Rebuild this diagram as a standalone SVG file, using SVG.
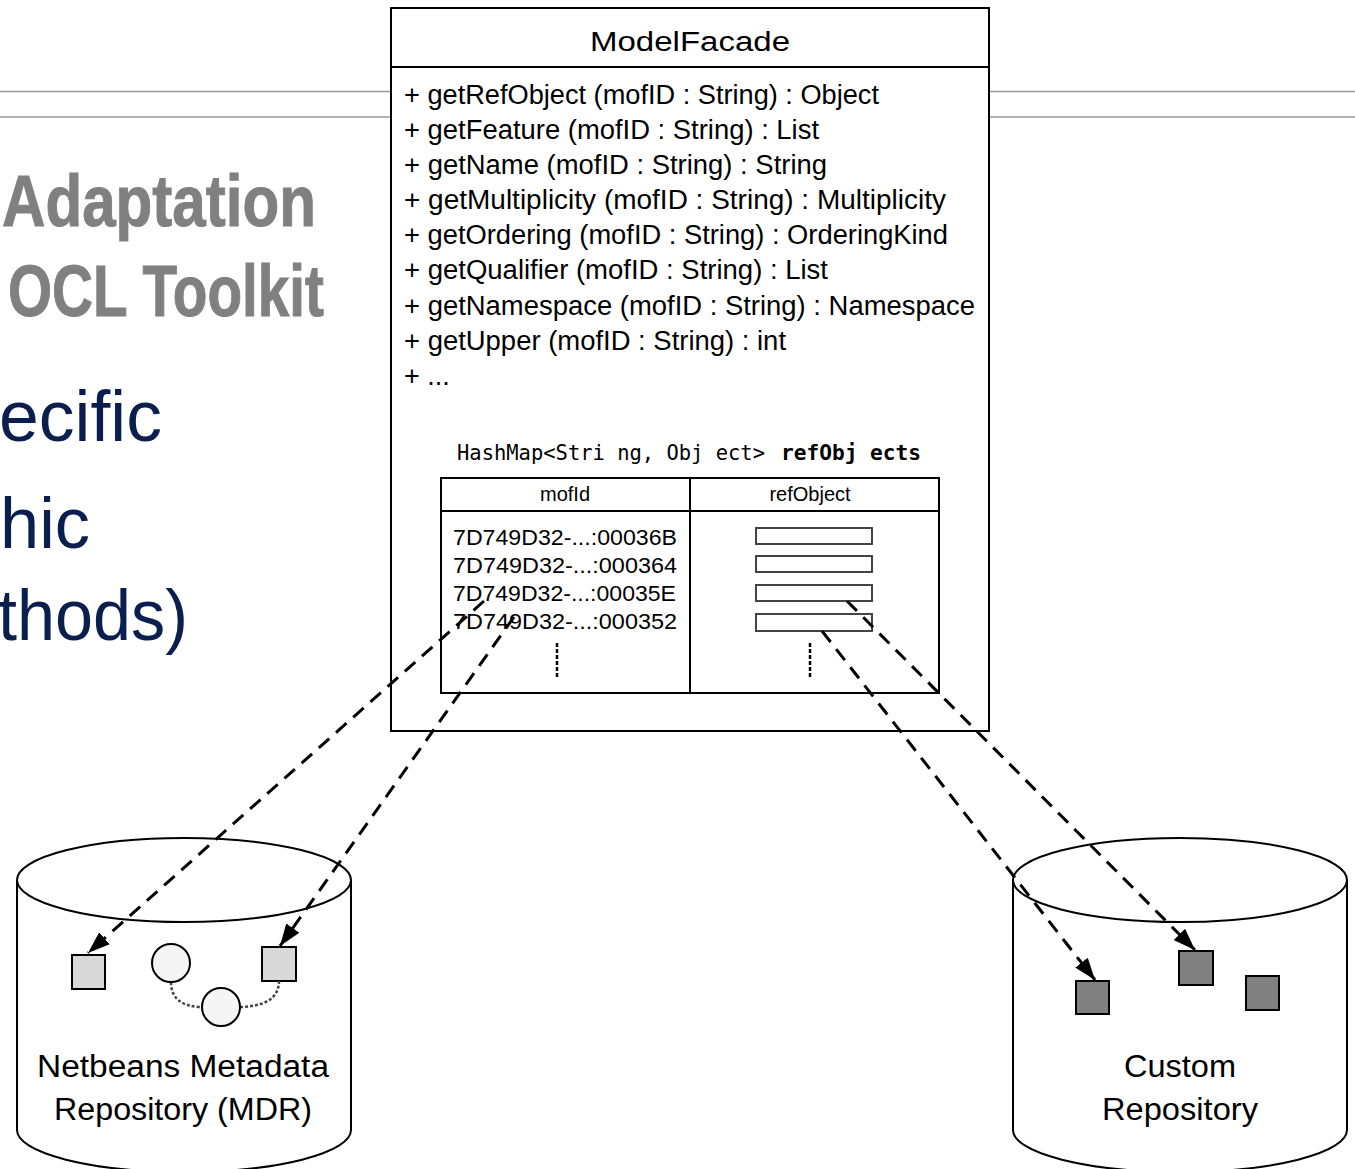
<svg xmlns="http://www.w3.org/2000/svg" width="1355" height="1169" viewBox="0 0 1355 1169">
<style>
.box{fill:#fff;stroke:#000;stroke-width:2}
.m{font-family:"Liberation Sans Narrow","Liberation Sans",Arial,sans-serif;font-size:27px;fill:#000}
.t{font-family:"Liberation Sans",Arial,sans-serif;fill:#000}
.title{font-family:"Liberation Sans Narrow","Liberation Sans",Arial,sans-serif;font-weight:bold;font-size:72px;fill:#808080;stroke:#808080;stroke-width:1}
.blue{font-family:"Liberation Sans",Arial,sans-serif;font-size:72px;fill:#0b1f4f}
.conn{fill:none;stroke:#000;stroke-width:3;stroke-dasharray:14 9}
.dot{fill:none;stroke:#444;stroke-width:2.5;stroke-dasharray:3 2}
.cyl{fill:#fff;stroke:#000;stroke-width:2}
.rect{fill:#fff;stroke:#444;stroke-width:2}
</style>
<defs>
<marker id="ah" viewBox="0 0 22 16" refX="22" refY="8" markerWidth="22" markerHeight="16" markerUnits="userSpaceOnUse" orient="auto">
<path d="M0,0 L22,8 L0,16 z" fill="#000"/>
</marker>
</defs>
<rect width="1355" height="1169" fill="#fff"/>
<g id="background">
<line x1="0" y1="91.5" x2="1355" y2="91.5" stroke="#999" stroke-width="1.5"/>
<line x1="0" y1="117" x2="1355" y2="117" stroke="#999" stroke-width="1.5"/>
<text class="title" x="2" y="226" textLength="314" lengthAdjust="spacingAndGlyphs">Adaptation</text>
<text class="title" x="8" y="316" textLength="316" lengthAdjust="spacingAndGlyphs">OCL Toolkit</text>
<text class="blue" x="-1" y="441" textLength="163" lengthAdjust="spacingAndGlyphs">ecific</text>
<text class="blue" x="0" y="548" textLength="90" lengthAdjust="spacingAndGlyphs">hic</text>
<text class="blue" x="-2" y="640" textLength="190" lengthAdjust="spacingAndGlyphs">thods)</text>
</g>
<g id="modelfacade">
<rect class="box" x="391" y="8" width="598" height="723"/>
<line x1="391" y1="67" x2="989" y2="67" stroke="#000" stroke-width="2"/>
<text class="m" x="690" y="51" font-size="31" text-anchor="middle" textLength="200" lengthAdjust="spacingAndGlyphs">ModelFacade</text>
<text class="m" x="404" y="104" textLength="475" lengthAdjust="spacingAndGlyphs">+ getRefObject (mofID : String) : Object</text>
<text class="m" x="404" y="139" textLength="415" lengthAdjust="spacingAndGlyphs">+ getFeature (mofID : String) : List</text>
<text class="m" x="404" y="174" textLength="423" lengthAdjust="spacingAndGlyphs">+ getName (mofID : String) : String</text>
<text class="m" x="404" y="209" textLength="542" lengthAdjust="spacingAndGlyphs">+ getMultiplicity (mofID : String) : Multiplicity</text>
<text class="m" x="404" y="244" textLength="544" lengthAdjust="spacingAndGlyphs">+ getOrdering (mofID : String) : OrderingKind</text>
<text class="m" x="404" y="279" textLength="424" lengthAdjust="spacingAndGlyphs">+ getQualifier (mofID : String) : List</text>
<text class="m" x="404" y="315" textLength="571" lengthAdjust="spacingAndGlyphs">+ getNamespace (mofID : String) : Namespace</text>
<text class="m" x="404" y="350" textLength="382" lengthAdjust="spacingAndGlyphs">+ getUpper (mofID : String) : int</text>
<text class="m" x="404" y="385">+ ...</text>
</g>
<g id="hashmap">
<text font-family="'DejaVu Sans Mono','Liberation Mono',monospace" font-size="21" x="457" y="460"><tspan textLength="308" lengthAdjust="spacingAndGlyphs">HashMap&lt;Stri ng, Obj ect&gt;</tspan><tspan x="781" font-weight="bold" textLength="140" lengthAdjust="spacingAndGlyphs">refObj ects</tspan></text>
<rect x="441" y="478" width="498" height="215" fill="none" stroke="#000" stroke-width="2"/>
<line x1="441" y1="511" x2="939" y2="511" stroke="#000" stroke-width="2"/>
<line x1="690" y1="478" x2="690" y2="693" stroke="#000" stroke-width="2"/>
<text class="t" x="565" y="501" font-size="20" text-anchor="middle">mofId</text>
<text class="t" x="810" y="501" font-size="20" text-anchor="middle">refObject</text>
<text class="t" x="453" y="545" font-size="22" textLength="224" lengthAdjust="spacingAndGlyphs">7D749D32-...:00036B</text>
<text class="t" x="453" y="573" font-size="22" textLength="224" lengthAdjust="spacingAndGlyphs">7D749D32-...:000364</text>
<text class="t" x="453" y="601" font-size="22" textLength="223" lengthAdjust="spacingAndGlyphs">7D749D32-...:00035E</text>
<text class="t" x="453" y="629" font-size="22" textLength="224" lengthAdjust="spacingAndGlyphs">7D749D32-...:000352</text>
<rect class="rect" x="756" y="528" width="116" height="16"/>
<rect class="rect" x="756" y="556" width="116" height="16"/>
<rect class="rect" x="756" y="585" width="116" height="16"/>
<rect class="rect" x="756" y="614" width="116" height="17"/>
<line x1="557" y1="643" x2="557" y2="679" stroke="#000" stroke-width="2.5" stroke-dasharray="4 2"/>
<line x1="810" y1="643" x2="810" y2="679" stroke="#000" stroke-width="2.5" stroke-dasharray="4 2"/>
</g>
<g id="mdr">
<path class="cyl" d="M17,880 L17,1130 A167,42 0 0 0 351,1130 L351,880"/>
<ellipse class="cyl" cx="184" cy="880" rx="167" ry="42"/>
<rect x="72" y="955" width="33" height="34" fill="#d9d9d9" stroke="#000" stroke-width="2"/>
<rect x="262" y="947" width="34" height="34" fill="#d9d9d9" stroke="#000" stroke-width="2"/>
<path class="dot" d="M171,982 Q171,1006 201,1007"/>
<path class="dot" d="M240,1007 Q279,1006 279,981"/>
<circle cx="171" cy="963" r="19" fill="#f5f5f5" stroke="#000" stroke-width="2"/>
<circle cx="221" cy="1007" r="19" fill="#f5f5f5" stroke="#000" stroke-width="2"/>
<text class="t" x="183" y="1077" font-size="31" text-anchor="middle" textLength="292" lengthAdjust="spacingAndGlyphs">Netbeans Metadata</text>
<text class="t" x="183" y="1120" font-size="31" text-anchor="middle" textLength="258" lengthAdjust="spacingAndGlyphs">Repository (MDR)</text>
</g>
<g id="custom">
<path class="cyl" d="M1013,880 L1013,1130 A167,42 0 0 0 1347,1130 L1347,880"/>
<ellipse class="cyl" cx="1180" cy="880" rx="167" ry="42"/>
<rect x="1076" y="981" width="33" height="33" fill="#808080" stroke="#000" stroke-width="2"/>
<rect x="1179" y="951" width="34" height="34" fill="#808080" stroke="#000" stroke-width="2"/>
<rect x="1246" y="976" width="33" height="34" fill="#808080" stroke="#000" stroke-width="2"/>
<text class="t" x="1180" y="1077" font-size="31" text-anchor="middle" textLength="112" lengthAdjust="spacingAndGlyphs">Custom</text>
<text class="t" x="1180" y="1120" font-size="31" text-anchor="middle" textLength="156" lengthAdjust="spacingAndGlyphs">Repository</text>
</g>
<g id="connectors">
<line class="conn" x1="484" y1="601" x2="88" y2="953" marker-end="url(#ah)"/>
<line class="conn" x1="514" y1="617" x2="280" y2="946" marker-end="url(#ah)"/>
<line class="conn" x1="847" y1="601" x2="1195" y2="950" marker-end="url(#ah)"/>
<line class="conn" x1="822" y1="631" x2="1095" y2="980" marker-end="url(#ah)"/>
</g>
</svg>
